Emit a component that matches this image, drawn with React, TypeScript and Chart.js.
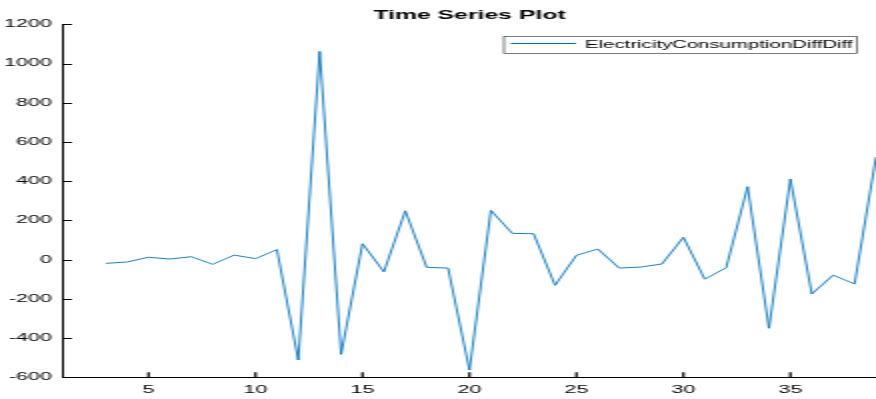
import { useEffect, useRef } from 'react';
import { Chart, registerables } from 'chart.js';

Chart.register(...registerables);

// Sample index (x) and second difference of electricity consumption (y)
const steps = [3, 4, 5, 6, 7, 8, 9, 10, 11, 12, 13, 14, 15, 16, 17, 18, 19, 20, 21, 22, 23, 24, 25, 26, 27, 28, 29, 30, 31, 32, 33, 34, 35, 36, 37, 38, 39];
const consumptionDiffDiff = [-19, -12, 12, 3, 15, -24, 23, 5, 51, -512, 1062, -483, 81, -62, 249, -39, -43, -563, 251, 134, 132, -131, 22, 54, -43, -38, -22, 114, -100, -41, 372, -350, 411, -175, -79, -124, 522];

const xTickValues = [5, 10, 15, 20, 25, 30, 35];
const yTickValues = [-600, -400, -200, 0, 200, 400, 600, 800, 1000, 1200];

const chartTitle = 'Time Series Plot';
const seriesLabel = 'ElectricityConsumptionDiffDiff';

const AXIS_COLOR = '#000';
const LINE_COLOR = '#0072BD';
const FONT = '"Liberation Sans", Arial, Helvetica, sans-serif';

// The figure is drawn at half width and widened 2x by CSS.
const DRAW_W = 438;
const DRAW_H = 399;

// Short tick marks pointing into the plot area, placed by the scales.
const inwardTicks = {
  id: 'inwardTicks',
  afterDraw(chart: any) {
    const { ctx, chartArea } = chart;
    const xScale = chart.scales.x;
    const yScale = chart.scales.y;
    ctx.save();
    ctx.strokeStyle = AXIS_COLOR;
    ctx.lineWidth = 1.2;
    ctx.beginPath();
    xScale.ticks.forEach((t: any) => {
      const px = xScale.getPixelForValue(t.value);
      ctx.moveTo(px, chartArea.bottom);
      ctx.lineTo(px, chartArea.bottom - 5);
    });
    yScale.ticks.forEach((t: any) => {
      const py = Math.round(yScale.getPixelForValue(t.value)) + 0.5;
      ctx.moveTo(chartArea.left, py);
      ctx.lineTo(chartArea.left + 4.5, py);
    });
    ctx.stroke();
    ctx.restore();
  },
};

const titleAndLegend = {
  id: 'titleAndLegend',
  afterDraw(chart: any) {
    const { ctx, chartArea } = chart;
    ctx.save();
    // title
    ctx.fillStyle = '#000';
    ctx.font = `bold 12.4px ${FONT}`;
    ctx.textAlign = 'center';
    ctx.textBaseline = 'alphabetic';
    ctx.fillText(chartTitle, (chartArea.left + chartArea.right) / 2, 18.5);

    // legend box
    const ds = chart.data.datasets[0];
    const boxL = 252;
    const boxR = 428.5;
    const boxT = 36.5;
    const boxB = 53.5;
    ctx.fillStyle = '#fff';
    ctx.fillRect(boxL, boxT, boxR - boxL, boxB - boxT);
    ctx.strokeStyle = '#444';
    ctx.lineWidth = 0.7;
    ctx.strokeRect(boxL, boxT, boxR - boxL, boxB - boxT);
    ctx.strokeStyle = ds.borderColor;
    ctx.lineWidth = 1;
    ctx.beginPath();
    ctx.moveTo(255.3, 43.5);
    ctx.lineTo(288, 43.5);
    ctx.stroke();
    ctx.fillStyle = '#000';
    ctx.font = `10.2px ${FONT}`;
    ctx.textAlign = 'left';
    ctx.textBaseline = 'middle';
    ctx.fillText(ds.label, 292.5, 44.8);
    ctx.restore();
  },
};

export default function App() {
  const canvasRef = useRef<HTMLCanvasElement>(null);

  useEffect(() => {
    const canvas = canvasRef.current;
    if (!canvas) return;
    const chart = new Chart(canvas, {
      type: 'line',
      data: {
        datasets: [
          {
            label: seriesLabel,
            data: steps.map((x, i) => ({ x, y: consumptionDiffDiff[i] })),
            borderColor: LINE_COLOR,
            backgroundColor: LINE_COLOR,
            borderWidth: 0.9,
            pointRadius: 0,
            tension: 0,
            fill: false,
          },
        ],
      },
      options: {
        responsive: false,
        animation: false,
        devicePixelRatio: 1,
        layout: { padding: { top: 24.3, right: 0, bottom: 0, left: 0 } },
        plugins: {
          legend: { display: false },
          title: { display: false },
          tooltip: { enabled: false },
        },
        scales: {
          x: {
            type: 'linear',
            min: 1,
            max: 39,
            grid: { display: false, drawTicks: false },
            border: { display: true, color: AXIS_COLOR, width: 1 },
            afterBuildTicks: (scale: any) => {
              scale.ticks = xTickValues.map((value) => ({ value }));
            },
            afterFit: (scale: any) => {
              scale.height = 21.7;
            },
            ticks: {
              color: '#000',
              font: { family: FONT, size: 10.8 },
              padding: 6.5,
              maxRotation: 0,
              callback: (v: any) => String(v),
            },
          },
          y: {
            type: 'linear',
            min: -600,
            max: 1200,
            grid: { display: false, drawTicks: false },
            border: { display: true, color: AXIS_COLOR, width: 1 },
            afterBuildTicks: (scale: any) => {
              scale.ticks = yTickValues.map((value) => ({ value }));
            },
            afterFit: (scale: any) => {
              scale.width = 31.5;
            },
            ticks: {
              color: '#000',
              font: { family: FONT, size: 10.8 },
              padding: 5.5,
              callback: (v: any) => String(v),
            },
          },
        },
      },
      plugins: [inwardTicks, titleAndLegend],
    });
    return () => chart.destroy();
  }, []);

  return (
    <div style={{ position: 'absolute', left: 0, top: 0, width: 876, height: 399, background: '#fff' }}>
      <canvas
        ref={canvasRef}
        width={DRAW_W}
        height={DRAW_H}
        style={{ width: '876px', height: '399px', display: 'block' }}
      />
    </div>
  );
}
